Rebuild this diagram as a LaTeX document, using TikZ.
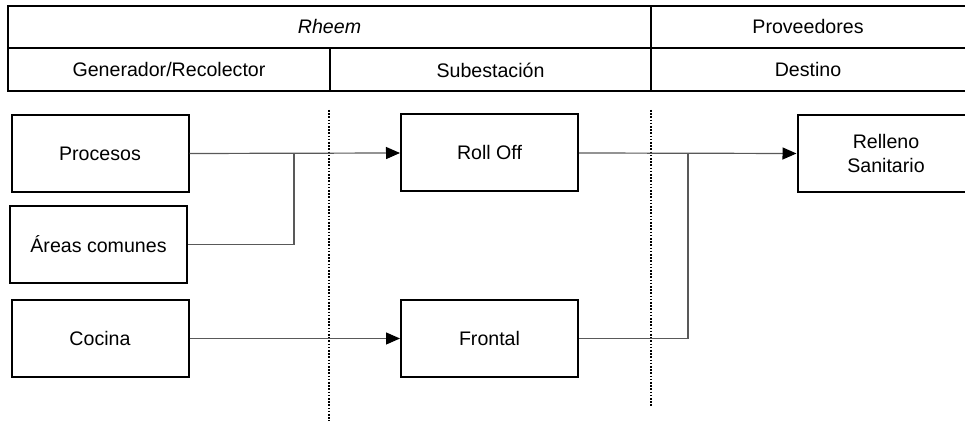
\documentclass[tikz,border=0pt]{standalone}
\usepackage{fontspec}
\setmainfont{Liberation Sans}
\usetikzlibrary{arrows.meta}
\begin{document}
\begin{tikzpicture}[x=0.5pt,y=-0.5pt,
  every node/.style={font=\fontsize{9.8}{11.6}\selectfont},
  grid/.style={line width=1pt,black},
  box/.style={draw=black,line width=1pt,minimum width=88.5pt,minimum height=38.5pt,inner sep=0pt,align=center},
  cell/.style={inner sep=0pt},
  conn/.style={line width=0.6pt,draw=black!65},
  flow/.style={conn,-{Triangle[length=7pt,width=6pt,color=black]}},
  sep/.style={line width=0.9pt,dash pattern=on 0.8pt off 0.8pt,black}]
\useasboundingbox (0,0) rectangle (965,421);
\clip (0,0) rectangle (965,421);

% header table
\draw[grid] (965,6) -- (8,6) -- (8,91) -- (965,91);
\draw[grid] (8,48.5) -- (965,48.5);
\draw[grid] (651,6) -- (651,91);
\draw[grid] (330,48.5) -- (330,91);
\node[cell] (hrheem) at (329.5,27) {\itshape Rheem};
\node[cell] (hprov) at (808,27) {Proveedores};
\node[cell] (hgen) at (169,70) {Generador/Recolector};
\node[cell] (hsub) at (490.5,70) {Subestación};
\node[cell] (hdest) at (808,70) {Destino};

% stage separators
\draw[sep] (329,110) -- (329,421);
\draw[sep] (651,110) -- (651,407);

% boxes
\node[box] (proc) at (100,153.5) {Procesos};
\node[box] (areas) at (98.5,244.5) {Áreas comunes};
\node[box] (coc) at (100,338.5) {Cocina};
\node[box] (roll) at (489.5,153) {Roll Off};
\node[box] (front) at (489.5,338.5) {Frontal};
\node[box] (rell) at (886,153.5) {Relleno\\[0pt]Sanitario};

% junction points
\coordinate (j1) at (294,153.5);
\coordinate (j2) at (688,153.5);

% connectors
\draw[flow] (proc.east) -- (roll.west);
\draw[conn] (areas.east) -| (j1);
\draw[flow] (coc.east) -- (front.west);
\draw[flow] (roll.east) -- (rell.west);
\draw[conn] (front.east) -| (j2);
\end{tikzpicture}
\end{document}
